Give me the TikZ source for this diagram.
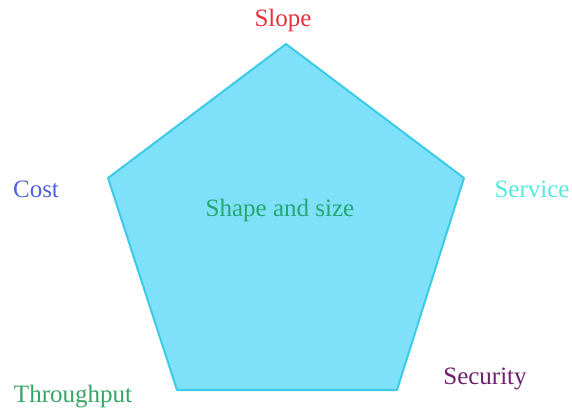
\documentclass[tikz,border=0pt]{standalone}
\usepackage{fontspec}
\setmainfont{Liberation Serif}
\newfontfamily\tagface{Liberation Serif}
\usepackage{tikz}
\usetikzlibrary{positioning}
\usetikzlibrary{calc}

\definecolor{pentfill}{HTML}{7FE1F9}
\definecolor{pentline}{HTML}{3CCBE6}
\definecolor{slopecol}{HTML}{E8303A}
\definecolor{costcol}{HTML}{4F5FE0}
\definecolor{servicecol}{HTML}{55E8DF}
\definecolor{throughcol}{HTML}{35A565}
\definecolor{securitycol}{HTML}{6E1F6E}
\definecolor{shapecol}{HTML}{22A872}

\begin{document}
\begin{tikzpicture}[x=1pt, y=-1pt, tagtext/.style={inner sep=0pt, font=\tagface\fontsize{25}{30}\selectfont}]
    \useasboundingbox (0,0) rectangle (572,412);

    % corners
    \coordinate (top) at (286,44);
    \coordinate (right) at (464,178);
    \coordinate (botright) at (397,390);
    \coordinate (botleft) at (177,390);
    \coordinate (left) at (108,178);

    \draw [fill=pentfill, draw=pentline, line width=2pt, line join=round]
        (top) -- (right) -- (botright) -- (botleft) -- (left) -- cycle;

    % labels
    \node [tagtext, text=slopecol] (slope) at (283,20) {Slope};
    \node [tagtext, text=costcol] (cost) at (36,189) {Cost};
    \node [tagtext, text=servicecol] (service) at (532,189) {Service};
    \node [tagtext, text=securitycol] (security) at (485,379) {Security};
    \node [tagtext, text=throughcol] (throughput) at (73,397) {Throughput};
    \node [tagtext, text=shapecol] (shape) at (280,210) {Shape and size};
\end{tikzpicture}
\end{document}
